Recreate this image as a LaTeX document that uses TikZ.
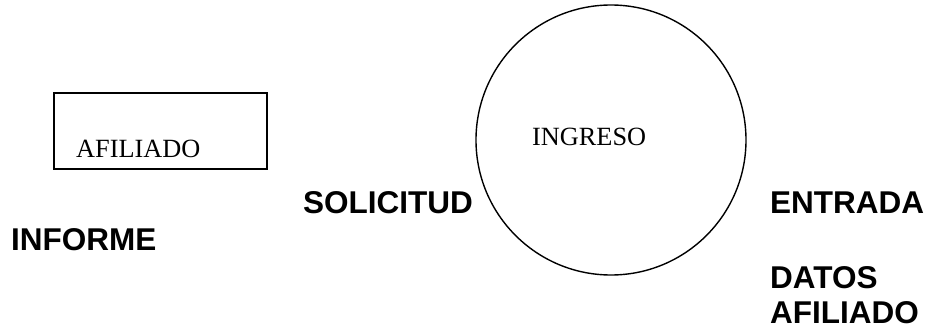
\documentclass[tikz,border=0pt]{standalone}
\usepackage{fontspec}
\setmainfont{Liberation Serif}
\newfontfamily\labelfont{Liberation Sans}
\begin{document}
\begin{tikzpicture}[x=1pt,y=-1pt,
  shapeline/.style={draw=black,line width=1.4pt},
  serifText/.style={inner sep=0pt,anchor=base west,font=\fontsize{26.3}{30}\selectfont},
  flowText/.style={inner sep=0pt,anchor=base west,font=\labelfont\bfseries\fontsize{31.5}{36}\selectfont}]
\useasboundingbox (0,0) rectangle (930,335);
% external entity
\node[shapeline,rectangle,minimum width=213pt,minimum height=76pt,inner sep=0pt] (entidad) at (160.5,131) {};
\node[serifText] (afiliado) at (76,157) {AFILIADO};
% process
\node[shapeline,circle,minimum size=270pt,inner sep=0pt] (proceso) at (611,140) {};
\node[serifText] (ingreso) at (532,145) {INGRESO};
% flow labels
\node[flowText] (solicitud) at (303,213) {SOLICITUD};
\node[flowText] (informe) at (11,250) {INFORME};
\node[flowText] (entrada) at (770,213) {ENTRADA};
\node[flowText] (datos) at (770,288) {DATOS};
\node[flowText] (datosafil) at (770,323) {AFILIADO};
\end{tikzpicture}
\end{document}
